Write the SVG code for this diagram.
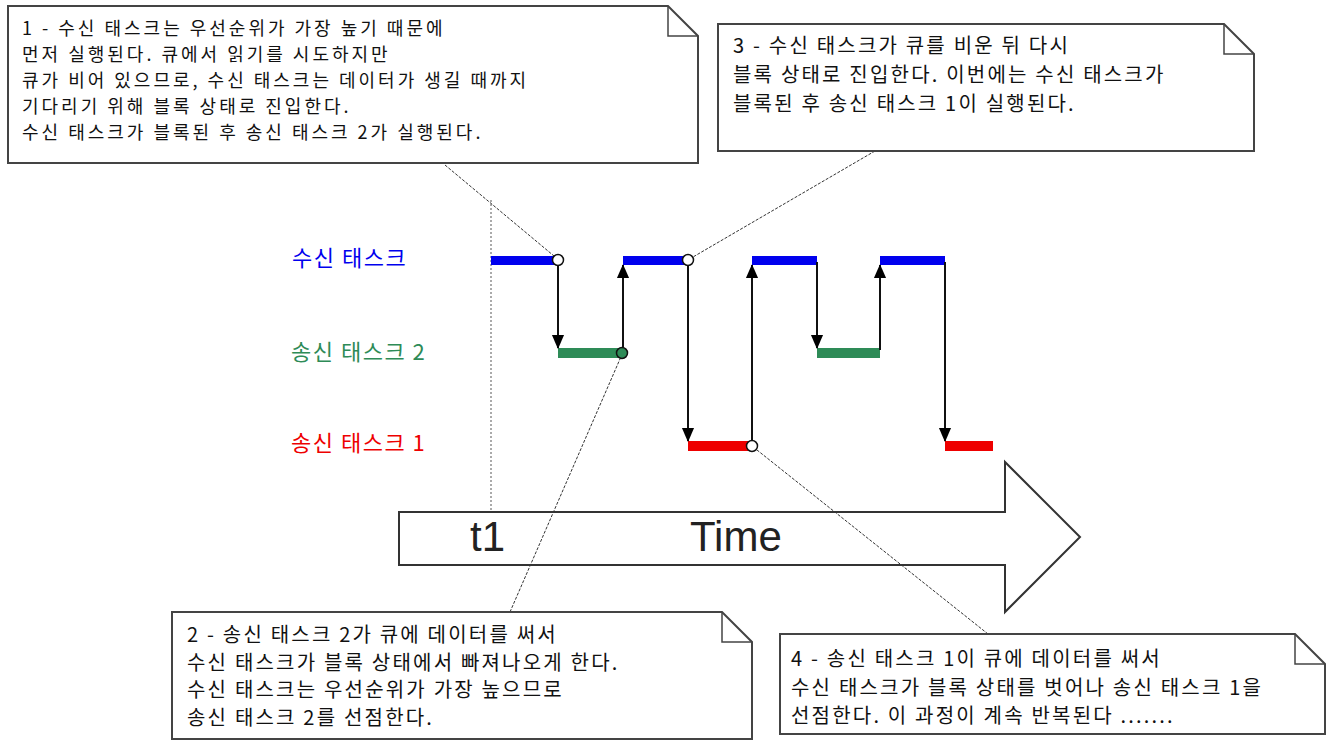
<svg xmlns="http://www.w3.org/2000/svg" width="1335" height="749" viewBox="0 0 1335 749">
<style>
.box{fill:#fff;stroke:#444;stroke-width:2}
.fold{fill:none;stroke:#444;stroke-width:1.5}
.t{font-family:"Noto Sans CJK KR","Noto Sans",sans-serif;font-size:20px;letter-spacing:2.2px;fill:#111}
.t1{font-size:18px;letter-spacing:3px}
.lead{stroke:#333;stroke-width:1;stroke-dasharray:3 1.5;fill:none}
.arr{stroke:#111;stroke-width:2;fill:none;marker-end:url(#ah)}
.c{fill:#fff;stroke:#111;stroke-width:1.5}
.lab{font-family:"Noto Sans CJK KR","Noto Sans",sans-serif;font-size:22px;letter-spacing:1.5px}
</style>
<defs><marker id="ah" markerWidth="14" markerHeight="16" refX="15" refY="7" orient="auto" markerUnits="userSpaceOnUse" viewBox="0 0 16 14"><path d="M0,0 L16,7 L0,14 z" fill="#000"/></marker></defs>
<rect width="1335" height="749" fill="#fff"/>
<g id="timearrow">
<path d="M399,512 H1005 V462 L1080,537 L1005,612 V565 H399 Z" fill="#fff" stroke="#333" stroke-width="2"/>
<text x="470" y="551" font-family="Liberation Sans,Arial,sans-serif" font-size="42" fill="#222">t1</text>
<text x="690" y="551" font-family="Liberation Sans,Arial,sans-serif" font-size="42" fill="#222">Time</text>
</g>
<line x1="491" y1="200" x2="491" y2="510" stroke="#aaa" stroke-width="2" stroke-dasharray="2 2"/>
<g id="labels">
<text class="lab" x="292" y="266" fill="#0000ee">수신 태스크</text>
<text class="lab" x="291" y="360" fill="#2e8b57">송신 태스크 2</text>
<text class="lab" x="291" y="451" fill="#ee0000">송신 태스크 1</text>
</g>
<g id="bars">
<g fill="#0000ee"><rect x="491" y="256" width="67" height="9"/><rect x="623" y="256" width="65" height="9"/><rect x="752" y="256" width="65" height="9"/><rect x="880" y="256" width="65" height="9"/></g>
<g fill="#2e8b57"><rect x="558" y="348" width="65" height="10"/><rect x="817" y="348" width="63" height="10"/></g>
<g fill="#ee0000"><rect x="688" y="441" width="64" height="10"/><rect x="945" y="441" width="48" height="10"/></g>
</g>
<g id="connectors">
<line class="arr" x1="558" y1="262" x2="558" y2="348"/>
<line class="arr" x1="623" y1="350" x2="623" y2="265"/>
<line class="arr" x1="688" y1="262" x2="688" y2="441"/>
<line class="arr" x1="752" y1="443" x2="752" y2="265"/>
<line class="arr" x1="817" y1="262" x2="817" y2="348"/>
<line class="arr" x1="880" y1="350" x2="880" y2="265"/>
<line class="arr" x1="945" y1="262" x2="945" y2="441"/>
<line class="lead" x1="445" y1="165" x2="554" y2="256"/>
<line class="lead" x1="875" y1="151" x2="693" y2="257"/>
<line class="lead" x1="510" y1="612" x2="620" y2="359"/>
<line class="lead" x1="988" y1="634" x2="757" y2="450"/>
<circle class="c" cx="558" cy="260" r="5.5"/>
<circle class="c" cx="688" cy="260" r="5.5"/>
<circle class="c" cx="752" cy="446" r="5.5"/>
<circle cx="622" cy="353" r="5.5" fill="#2e8b57" stroke="#111" stroke-width="1.5"/>
</g>
<g id="note1">
<path class="box" d="M8,6 H668 L698,36 V163 H8 Z"/><path class="fold" d="M668,6 V36 H698"/>
<text class="t t1" x="22" y="35">1 - 수신 태스크는 우선순위가 가장 높기 때문에</text>
<text class="t t1" x="22" y="61">먼저 실행된다. 큐에서 읽기를 시도하지만</text>
<text class="t t1" x="22" y="87">큐가 비어 있으므로, 수신 태스크는 데이터가 생길 때까지</text>
<text class="t t1" x="22" y="113">기다리기 위해 블록 상태로 진입한다.</text>
<text class="t t1" x="22" y="139">수신 태스크가 블록된 후 송신 태스크 2가 실행된다.</text>
</g>
<g id="note3">
<path class="box" d="M718,24 H1224 L1254,54 V151 H718 Z"/><path class="fold" d="M1224,24 V54 H1254"/>
<text class="t" x="733" y="53">3 - 수신 태스크가 큐를 비운 뒤 다시</text>
<text class="t" x="733" y="82">블록 상태로 진입한다. 이번에는 수신 태스크가</text>
<text class="t" x="733" y="111">블록된 후 송신 태스크 1이 실행된다.</text>
</g>
<g id="note2">
<path class="box" d="M172,612 H722 L752,642 V739 H172 Z"/><path class="fold" d="M722,612 V642 H752"/>
<text class="t" x="187" y="642">2 - 송신 태스크 2가 큐에 데이터를 써서</text>
<text class="t" x="187" y="670">수신 태스크가 블록 상태에서 빠져나오게 한다.</text>
<text class="t" x="187" y="697">수신 태스크는 우선순위가 가장 높으므로</text>
<text class="t" x="187" y="725">송신 태스크 2를 선점한다.</text>
</g>
<g id="note4">
<path class="box" d="M780,634 H1295 L1325,664 V734 H780 Z"/><path class="fold" d="M1295,634 V664 H1325"/>
<text class="t" x="791" y="666">4 - 송신 태스크 1이 큐에 데이터를 써서</text>
<text class="t" x="791" y="695">수신 태스크가 블록 상태를 벗어나 송신 태스크 1을</text>
<text class="t" x="791" y="723">선점한다. 이 과정이 계속 반복된다 .......</text>
</g>
</svg>
